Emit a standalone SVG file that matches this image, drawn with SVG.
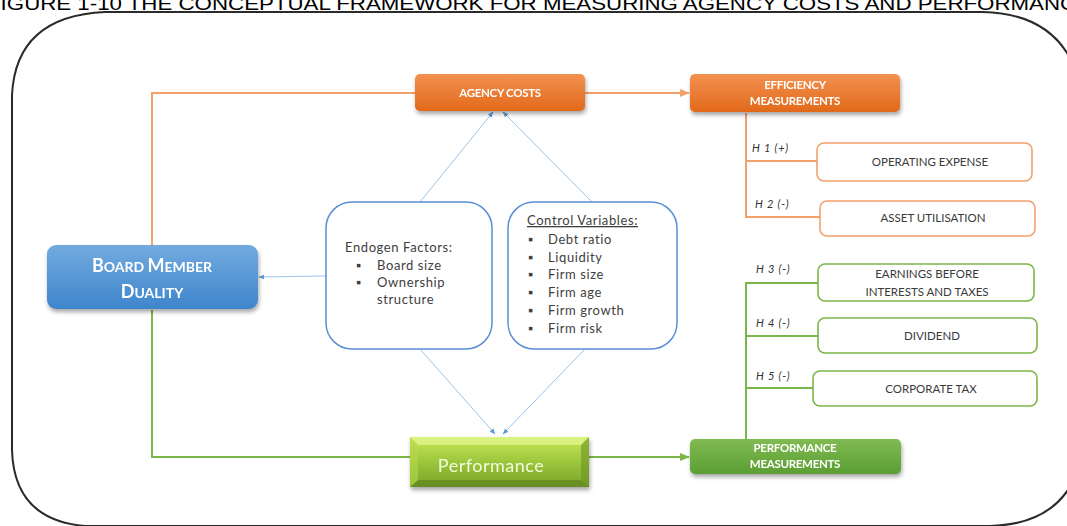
<svg xmlns="http://www.w3.org/2000/svg" width="1067" height="526" viewBox="0 0 1067 526">
  <defs>
    <linearGradient id="gBlue" x1="0" y1="0" x2="0" y2="1">
      <stop offset="0" stop-color="#72aadf"/>
      <stop offset="1" stop-color="#3f85cc"/>
    </linearGradient>
    <linearGradient id="gOrange" x1="0" y1="0" x2="0" y2="1">
      <stop offset="0" stop-color="#f29150"/>
      <stop offset="1" stop-color="#e2691a"/>
    </linearGradient>
    <linearGradient id="gGreen" x1="0" y1="0" x2="0" y2="1">
      <stop offset="0" stop-color="#80bb52"/>
      <stop offset="1" stop-color="#5b9e33"/>
    </linearGradient>
    <linearGradient id="gLime" x1="0" y1="0" x2="0" y2="1">
      <stop offset="0" stop-color="#c9e85a"/>
      <stop offset="0.5" stop-color="#9cc63c"/>
      <stop offset="1" stop-color="#79a428"/>
    </linearGradient>
    <filter id="shadow" x="-10%" y="-20%" width="120%" height="150%">
      <feGaussianBlur in="SourceAlpha" stdDeviation="2"/>
      <feOffset dx="1" dy="3" result="b"/>
      <feComponentTransfer><feFuncA type="linear" slope="0.35"/></feComponentTransfer>
      <feMerge><feMergeNode/><feMergeNode in="SourceGraphic"/></feMerge>
    </filter>
    <marker id="arrBlue" viewBox="0 0 10 10" refX="9" refY="5" markerWidth="6" markerHeight="6" orient="auto">
      <path d="M0,1 L10,5 L0,9 z" fill="#5b9bd5"/>
    </marker>
    <marker id="arrOrange" viewBox="0 0 10 10" refX="9" refY="5" markerWidth="5" markerHeight="5" orient="auto">
      <path d="M0,1 L10,5 L0,9 z" fill="#f4a06a"/>
    </marker>
    <marker id="arrGreen" viewBox="0 0 10 10" refX="9" refY="5" markerWidth="5" markerHeight="5" orient="auto">
      <path d="M0,1 L10,5 L0,9 z" fill="#7ab648"/>
    </marker>
    <style>
      .title { font-family: "Liberation Sans", Arial, sans-serif; font-size: 19px; fill: #000; }
      .head { font-family: Lato, "Open Sans", sans-serif; font-weight: 700; font-size: 11.5px; fill: #fff; text-anchor: middle; letter-spacing: -0.3px; }
      .item { font-family: Lato, "Open Sans", sans-serif; font-size: 11.5px; fill: #3a3a3a; text-anchor: middle; }
      .body { font-family: Lato, "Open Sans", sans-serif; font-size: 13px; fill: #404040; letter-spacing: 0.6px; }
      .hyp { font-family: Lato, "Open Sans", sans-serif; font-style: italic; font-size: 11px; fill: #333; letter-spacing: 0.8px; }
      .boxO { fill: #fff; stroke: #f4a06a; stroke-width: 1.6; }
      .boxG { fill: #fff; stroke: #7ab648; stroke-width: 1.6; }
      .boxB { fill: #fff; stroke: #5b8fd6; stroke-width: 1.5; }
      .lnO { fill: none; stroke: #f4a06a; stroke-width: 2; }
      .lnG { fill: none; stroke: #7ab648; stroke-width: 2; }
      .lnB { fill: none; stroke: #9dc3e6; stroke-width: 1; }
    </style>
  </defs>

  <rect width="1067" height="526" fill="#fff"/>

  <!-- frame -->
  <path d="M105,12 L983,12 Q1075,14 1085,110 L1085,440 Q1075,524 990,526 L85,526 Q14,520 12,450 L12,95 Q16,16 105,12 Z" fill="none" stroke="#2a2a2a" stroke-width="2"/>

  <!-- caption, running past both edges of the page -->
  <text class="title" x="-13" y="10" textLength="1104" lengthAdjust="spacingAndGlyphs">FIGURE 1-10 THE CONCEPTUAL FRAMEWORK FOR MEASURING AGENCY COSTS AND PERFORMANCE</text>

  <!-- connectors -->
  <g id="connectors">
    <path class="lnO" d="M152,245 L152,93 L415,93"/>
    <path class="lnO" d="M585,93 L689,93" marker-end="url(#arrOrange)"/>
    <path class="lnO" d="M746,113 L746,217 L820,217"/>
    <path class="lnO" d="M746,161 L817,161"/>
    <path class="lnG" d="M152,310 L152,457 L410,457"/>
    <path class="lnG" d="M589,457 L689,457" marker-end="url(#arrGreen)"/>
    <path class="lnG" d="M746,439 L746,283 L818,283"/>
    <path class="lnG" d="M746,336 L818,336"/>
    <path class="lnG" d="M746,388 L813,388"/>
    <path class="lnB" d="M420,202 L493,112" marker-end="url(#arrBlue)"/>
    <path class="lnB" d="M592,202 L503,112" marker-end="url(#arrBlue)"/>
    <path class="lnB" d="M420,349 L495,434" marker-end="url(#arrBlue)"/>
    <path class="lnB" d="M585,349 L503,434" marker-end="url(#arrBlue)"/>
    <path class="lnB" d="M326,276 L259,277" marker-end="url(#arrBlue)"/>
  </g>

  <!-- hypothesis labels -->
  <g id="hypotheses">
    <text class="hyp" x="752" y="152">H 1 (+)</text>
    <text class="hyp" x="755" y="208">H 2 (-)</text>
    <text class="hyp" x="756" y="273">H 3 (-)</text>
    <text class="hyp" x="756" y="327">H 4 (-)</text>
    <text class="hyp" x="756" y="380">H 5 (-)</text>
  </g>

  <g id="board" filter="url(#shadow)">
    <rect x="47" y="245" width="211" height="64" rx="9" fill="url(#gBlue)"/>
    <text x="152" y="272" font-family="Lato, 'Open Sans', sans-serif" font-weight="700" fill="#fff" text-anchor="middle"><tspan font-size="18">B</tspan><tspan font-size="14">OARD </tspan><tspan font-size="18">M</tspan><tspan font-size="14">EMBER</tspan></text>
    <text x="152" y="298" font-family="Lato, 'Open Sans', sans-serif" font-weight="700" fill="#fff" text-anchor="middle"><tspan font-size="18">D</tspan><tspan font-size="14">UALITY</tspan></text>
  </g>

  <g id="agency" filter="url(#shadow)">
    <rect x="415" y="74" width="170" height="37" rx="5" fill="url(#gOrange)"/>
    <text class="head" x="500" y="97">AGENCY COSTS</text>
  </g>

  <g id="efficiency" filter="url(#shadow)">
    <rect x="690" y="74" width="210" height="38" rx="5" fill="url(#gOrange)"/>
    <text class="head" x="795" y="89">EFFICIENCY</text>
    <text class="head" x="795" y="105">MEASUREMENTS</text>
  </g>

  <g id="opex">
    <rect class="boxO" x="817" y="143" width="215" height="38" rx="7"/>
    <text class="item" x="930" y="166">OPERATING EXPENSE</text>
  </g>

  <g id="asset">
    <rect class="boxO" x="820" y="201" width="215" height="35" rx="7"/>
    <text class="item" x="933" y="222">ASSET UTILISATION</text>
  </g>

  <g id="ebit">
    <rect class="boxG" x="818" y="264" width="216" height="37" rx="7"/>
    <text class="item" x="927" y="278">EARNINGS BEFORE</text>
    <text class="item" x="927" y="296">INTERESTS AND TAXES</text>
  </g>

  <g id="dividend">
    <rect class="boxG" x="818" y="318" width="219" height="35" rx="7"/>
    <text class="item" x="932" y="340">DIVIDEND</text>
  </g>

  <g id="tax">
    <rect class="boxG" x="813" y="371" width="224" height="35" rx="7"/>
    <text class="item" x="931" y="393">CORPORATE TAX</text>
  </g>

  <g id="perfmeasure" filter="url(#shadow)">
    <rect x="690" y="439" width="211" height="35" rx="5" fill="url(#gGreen)"/>
    <text class="head" x="795" y="452">PERFORMANCE</text>
    <text class="head" x="795" y="468">MEASUREMENTS</text>
  </g>

  <g id="performance" filter="url(#shadow)">
    <rect x="410" y="437" width="179" height="50" fill="url(#gLime)"/>
    <path d="M410,437 L589,437 L581,445 L418,445 Z" fill="#dff58a" opacity="0.8"/>
    <path d="M410,487 L589,487 L581,480 L418,480 Z" fill="#5d7f1c" opacity="0.6"/>
    <path d="M589,437 L589,487 L581,480 L581,445 Z" fill="#6e9324" opacity="0.6"/>
    <path d="M410,437 L410,487 L418,480 L418,445 Z" fill="#b5d84a" opacity="0.6"/>
    <text x="491" y="472" font-family="Lato, 'Open Sans', sans-serif" font-size="18" fill="#f2fbdc" text-anchor="middle" letter-spacing="0.5">Performance</text>
  </g>

  <g id="endogen">
    <rect class="boxB" x="326" y="202" width="166" height="147" rx="26"/>
    <text class="body" x="345" y="252">Endogen Factors:</text>
    <text class="body" x="356" y="270">▪</text>
    <text class="body" x="377" y="270">Board size</text>
    <text class="body" x="356" y="287">▪</text>
    <text class="body" x="377" y="287">Ownership</text>
    <text class="body" x="377" y="304">structure</text>
  </g>

  <g id="controls">
    <rect class="boxB" x="508" y="202" width="169" height="147" rx="26"/>
    <text class="body" x="527" y="225" text-decoration="underline">Control Variables:</text>
    <text class="body" x="528" y="244">▪</text><text class="body" x="548" y="244">Debt ratio</text>
    <text class="body" x="528" y="262">▪</text><text class="body" x="548" y="262">Liquidity</text>
    <text class="body" x="528" y="279">▪</text><text class="body" x="548" y="279">Firm size</text>
    <text class="body" x="528" y="297">▪</text><text class="body" x="548" y="297">Firm age</text>
    <text class="body" x="528" y="315">▪</text><text class="body" x="548" y="315">Firm growth</text>
    <text class="body" x="528" y="333">▪</text><text class="body" x="548" y="333">Firm risk</text>
  </g>
</svg>
